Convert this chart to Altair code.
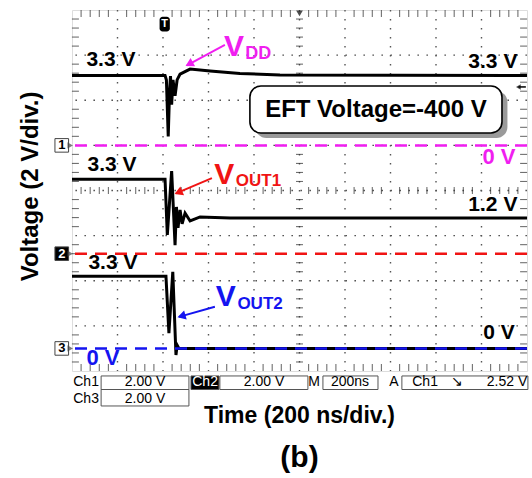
import math
import altair as alt
import pandas as pd

# ---------------- data (time in ns, voltage in V) ----------------
T_MAX = 2000          # 10 div x 200 ns
V_MIN, V_MAX = -8, 8  # 8 div x 2 V

ch_names = ["VDD", "VOUT1", "VOUT2"]
ch_offsets = [2.0, -2.8, -7.0]          # ground-reference positions (V on screen)
ch_colors = ["#f01ef0", "#f01414", "#1414f0"]

vdd_t = [0, 409, 415, 423, 429, 433, 438, 444, 453, 462, 475, 519, 607, 738, 914, 2000]
vdd_v = [3.1, 3.1, 2.9, 0.4, 2.45, 3.07, 1.8, 2.9, 2.2, 2.9, 3.16, 3.38, 3.3, 3.19, 3.12, 3.1]

vout1_t = [0, 409, 419, 438, 453, 459, 466, 475, 484, 497, 519, 563, 695, 2000]
vout1_v = [3.3, 3.3, 0.83, 3.66, 0.38, 2.07, 1.14, 1.94, 1.32, 1.8, 1.45, 1.63, 1.58, 1.58]

vout2_t = [0, 413, 426, 443, 457, 462, 470, 2000]
vout2_v = [3.2, 3.2, 0.68, 3.4, -0.29, 0.15, 0.0, 0.0]

# status bar texts
status_labels = ["Ch1", "2.00 V", "Ch2", "2.00 V", "M", "200ns", "A", "Ch1", "\u2198", "2.52 V", "Ch3", "2.00 V"]

FONT = "Liberation Sans"
W, H = 455, 361
PX_T = W / T_MAX
PX_V = H / (V_MAX - V_MIN)

# ---------------- tables ----------------
rows = []
for name, off, ts, vs in zip(ch_names, ch_offsets, [vdd_t, vout1_t, vout2_t], [vdd_v, vout1_v, vout2_v]):
    for i, (t, v) in enumerate(zip(ts, vs)):
        rows.append({"ch": name, "i": i, "t": t, "v": v, "disp": v + off})
traces = pd.DataFrame(rows)

refs = pd.DataFrame({"ch": ch_names, "disp": ch_offsets, "color": ch_colors})

X = lambda f="t": alt.X(f"{f}:Q", scale=alt.Scale(domain=[0, T_MAX], nice=False, zero=False), axis=None)
Y = lambda f="disp": alt.Y(f"{f}:Q", scale=alt.Scale(domain=[V_MIN, V_MAX], nice=False, zero=False), axis=None)

# graticule (dotted division lines)
grid_t = pd.DataFrame({"t": list(range(200, T_MAX, 200))})
grid_v = pd.DataFrame({"disp": list(range(V_MIN + 2, V_MAX, 2))})
grid_x = alt.Chart(grid_t).mark_rule(strokeDash=[1.6, 7.4], color="#555", strokeWidth=1.4).encode(x=X())
grid_y = alt.Chart(grid_v).mark_rule(strokeDash=[1.6, 7.4], color="#555", strokeWidth=1.4).encode(y=Y())

base = alt.Chart(traces).mark_line(color="black", strokeWidth=3, clip=True).encode(
    x=X(), y=Y(), detail="ch:N", order="i:Q")

# graticule minor ticks (centre lines and edges)
minor_t = [k * 40 for k in range(1, 50) if k % 5 != 0]
minor_v = [round(-8 + k * 0.4, 2) for k in range(1, 40) if k % 5 != 0]
tick_rows_v = []
for t in minor_t:
    for d in (0.0, -7.85, 7.85):
        tick_rows_v.append({"t": t, "disp": d})
tick_rows_h = []
for v in minor_v:
    for t in (1000, 15, 1985):
        tick_rows_h.append({"t": t, "disp": v})
ticks_v = alt.Chart(pd.DataFrame(tick_rows_v)).mark_tick(orient="vertical", size=7, thickness=1.1, color="#333").encode(x=X(), y=Y())
ticks_h = alt.Chart(pd.DataFrame(tick_rows_h)).mark_tick(orient="horizontal", size=7, thickness=1.1, color="#333").encode(x=X(), y=Y())

ref_lines = alt.Chart(refs).mark_rule(strokeDash=[12, 8], strokeWidth=2.5).encode(
    y=Y(), color=alt.Color("color:N", scale=None))

# channel markers on the left edge
marks = pd.DataFrame({"lab": ["1", "2", "3"], "disp": ch_offsets,
                      "fill": ["white", "black", "white"], "tc": ["black", "white", "black"]})
marks["t1"], marks["t2"], marks["tm"], marks["tp"] = -75, -15, -45, -8
marks["v1"], marks["v2"] = marks["disp"] - 0.3, marks["disp"] + 0.3
mk_box = alt.Chart(marks).mark_rect(stroke="#444", strokeWidth=1).encode(
    x=X("t1"), x2="t2", y=Y("v1"), y2="v2", fill=alt.Fill("fill:N", scale=None))
mk_tri = alt.Chart(marks).mark_point(shape="triangle-right", filled=True, size=40, color="#444").encode(x=X("tp"), y=Y())
mk_txt = alt.Chart(marks).mark_text(font=FONT, fontSize=13, fontWeight="bold").encode(
    x=X("tm"), y=Y(), text="lab:N", color=alt.Color("tc:N", scale=None))

# top trigger markers
trig = pd.DataFrame({"t1": [385], "t2": [430], "v1": [7.05], "v2": [7.7], "tm": [407], "vm": [7.37]})
trig_box = alt.Chart(trig).mark_rect(color="black", cornerRadius=3).encode(x=X("t1"), x2="t2", y=Y("v1"), y2="v2")
trig_txt = alt.Chart(trig).mark_text(text="T", color="white", font=FONT, fontSize=11, fontWeight="bold").encode(x=X("tm"), y=Y("vm"))
top_tri = alt.Chart(pd.DataFrame({"t": [1000], "disp": [7.85]})).mark_point(
    shape="triangle-down", filled=True, size=45, color="black").encode(x=X(), y=Y())
lvl = pd.DataFrame({"t": [1962], "t2": [1995], "disp": [4.59]})
lvl_rule = alt.Chart(lvl).mark_rule(color="black", strokeWidth=1.5).encode(x=X(), x2="t2", y=Y())
lvl_tri = alt.Chart(lvl).mark_point(shape="triangle-left", filled=True, size=30, color="black").encode(x=X(), y=Y())

# EFT box
eft = pd.DataFrame({"t1": [782], "t2": [1890], "v1": [2.55], "v2": [4.63]})
eft_sh = eft.assign(t1=eft.t1 + 24, t2=eft.t2 + 24, v1=eft.v1 - 0.22, v2=eft.v2 - 0.22)
eft_shadow = alt.Chart(eft_sh).mark_rect(color="#9a9a9a", cornerRadius=11).encode(x=X("t1"), x2="t2", y=Y("v1"), y2="v2")
eft_box = alt.Chart(eft).mark_rect(fill="white", stroke="black", strokeWidth=1.6, cornerRadius=11).encode(
    x=X("t1"), x2="t2", y=Y("v1"), y2="v2")

# annotation texts
ann = pd.DataFrame([
    {"txt": "3.3 V", "t": 171, "disp": 5.78, "c": "black", "fs": 21, "al": "center"},
    {"txt": "3.3 V", "t": 1850, "disp": 5.70, "c": "black", "fs": 21, "al": "center"},
    {"txt": "EFT Voltage=-400 V", "t": 1336, "disp": 3.57, "c": "black", "fs": 24, "al": "center"},
    {"txt": "0 V", "t": 1877, "disp": 1.48, "c": ch_colors[0], "fs": 22, "al": "center"},
    {"txt": "3.3 V", "t": 176, "disp": 1.13, "c": "black", "fs": 21, "al": "center"},
    {"txt": "1.2 V", "t": 1850, "disp": -0.64, "c": "black", "fs": 21, "al": "center"},
    {"txt": "3.3 V", "t": 180, "disp": -3.21, "c": "black", "fs": 21, "al": "center"},
    {"txt": "0 V", "t": 1877, "disp": -6.32, "c": "black", "fs": 21, "al": "center"},
    {"txt": "0 V", "t": 136, "disp": -7.42, "c": ch_colors[2], "fs": 22, "al": "center"},
    {"txt": "V", "t": 668, "disp": 6.36, "c": ch_colors[0], "fs": 30, "al": "left"},
    {"txt": "DD", "t": 762, "disp": 6.05, "c": ch_colors[0], "fs": 18, "al": "left"},
    {"txt": "V", "t": 625, "disp": 0.70, "c": ch_colors[1], "fs": 30, "al": "left"},
    {"txt": "OUT1", "t": 720, "disp": 0.40, "c": ch_colors[1], "fs": 17, "al": "left"},
    {"txt": "V", "t": 632, "disp": -4.72, "c": ch_colors[2], "fs": 30, "al": "left"},
    {"txt": "OUT2", "t": 727, "disp": -5.05, "c": ch_colors[2], "fs": 17, "al": "left"},
])
ann_layers = []
for (fs, al), g in ann.groupby(["fs", "al"]):
    ann_layers.append(alt.Chart(g).mark_text(font=FONT, fontSize=int(fs), fontWeight="bold", align=al, baseline="middle").encode(
        x=X(), y=Y(), text="txt:N", color=alt.Color("c:N", scale=None)))

# arrows
arrows = pd.DataFrame([
    {"t": 672, "disp": 6.45, "t2": 505, "disp2": 5.55, "c": ch_colors[0]},
    {"t": 615, "disp": 0.55, "t2": 457, "disp2": -0.13, "c": ch_colors[1]},
    {"t": 628, "disp": -5.15, "t2": 470, "disp2": -5.60, "c": ch_colors[2]},
])
heads = []
for _, r in arrows.iterrows():
    dx = (r.t2 - r.t) * PX_T
    dy = -(r.disp2 - r.disp) * PX_V
    L = math.hypot(dx, dy)
    ang = math.degrees(math.atan2(dx, -dy)) % 360
    back = 4.0
    heads.append({"t": r.t2 - dx / L * back / PX_T, "disp": r.disp2 + dy / L * back / PX_V, "ang": ang, "c": r.c})
heads = pd.DataFrame(heads)
arrow_lines = alt.Chart(arrows).mark_rule(strokeWidth=2).encode(
    x=X(), y=Y(), x2="t2", y2="disp2", color=alt.Color("c:N", scale=None))
arrow_heads = alt.Chart(heads).mark_point(shape="triangle", filled=True, size=90, opacity=1).encode(
    x=X(), y=Y(), angle=alt.Angle("ang:Q", scale=None), color=alt.Color("c:N", scale=None))

# status bar below the screen
r1a, r1b, r2b = -8.22, -8.82, -9.55
boxes = pd.DataFrame([
    {"t1": 128, "t2": 514, "v1": r1b, "v2": r1a, "f": "white"},
    {"t1": 523, "t2": 646, "v1": r1b, "v2": r1a, "f": "black"},
    {"t1": 650, "t2": 1037, "v1": r1b, "v2": r1a, "f": "white"},
    {"t1": 1103, "t2": 1345, "v1": r1b, "v2": r1a, "f": "white"},
    {"t1": 1450, "t2": 2004, "v1": r1b, "v2": r1a, "f": "white"},
    {"t1": 128, "t2": 514, "v1": r2b, "v2": r1b, "f": "white"},
])
status_boxes = alt.Chart(boxes).mark_rect(stroke="#555", strokeWidth=1).encode(
    x=X("t1"), x2="t2", y=Y("v1"), y2="v2", fill=alt.Fill("f:N", scale=None))
st_t = [62, 321, 585, 844, 1064, 1222, 1415, 1552, 1692, 1912, 62, 321]
st_v = [-8.50] * 10 + [-9.22, -9.22]
st_c = ["black", "black", "white"] + ["black"] * 9
status = pd.DataFrame({"txt": status_labels, "t": st_t, "disp": st_v, "c": st_c})
status_txt = alt.Chart(status).mark_text(font=FONT, fontSize=14, baseline="middle").encode(
    x=X(), y=Y(), text="txt:N", color=alt.Color("c:N", scale=None))

# titles
titles = pd.DataFrame([
    {"txt": "Time (200 ns/div.)", "t": 1000, "disp": -9.99, "fs": 23, "ang": 0},
    {"txt": "(b)", "t": 1000, "disp": -11.86, "fs": 30, "ang": 0},
    {"txt": "Voltage (2 V/div.)", "t": -180, "disp": 0.18, "fs": 24, "ang": 270},
])
title_layers = []
for _, r in titles.iterrows():
    title_layers.append(alt.Chart(pd.DataFrame([r])).mark_text(
        font=FONT, fontSize=int(r.fs), fontWeight="bold", angle=int(r.ang), baseline="middle", color="black").encode(
        x=X(), y=Y(), text="txt:N"))

chart = alt.layer(
    grid_x, grid_y, ticks_v, ticks_h, base, ref_lines, mk_box, mk_tri, mk_txt, trig_box, trig_txt, top_tri, lvl_rule, lvl_tri,
    eft_shadow, eft_box, *ann_layers, arrow_lines, arrow_heads, status_boxes, status_txt, *title_layers
).properties(
    width=W, height=H, autosize=alt.AutoSizeParams(type="none"),
    padding={"left": 72, "top": 10, "right": 5, "bottom": 107},
).configure_view(stroke="black", strokeWidth=2.5).configure(background="white")

chart.save("out.html", embed_options={"renderer": "svg", "actions": False})
